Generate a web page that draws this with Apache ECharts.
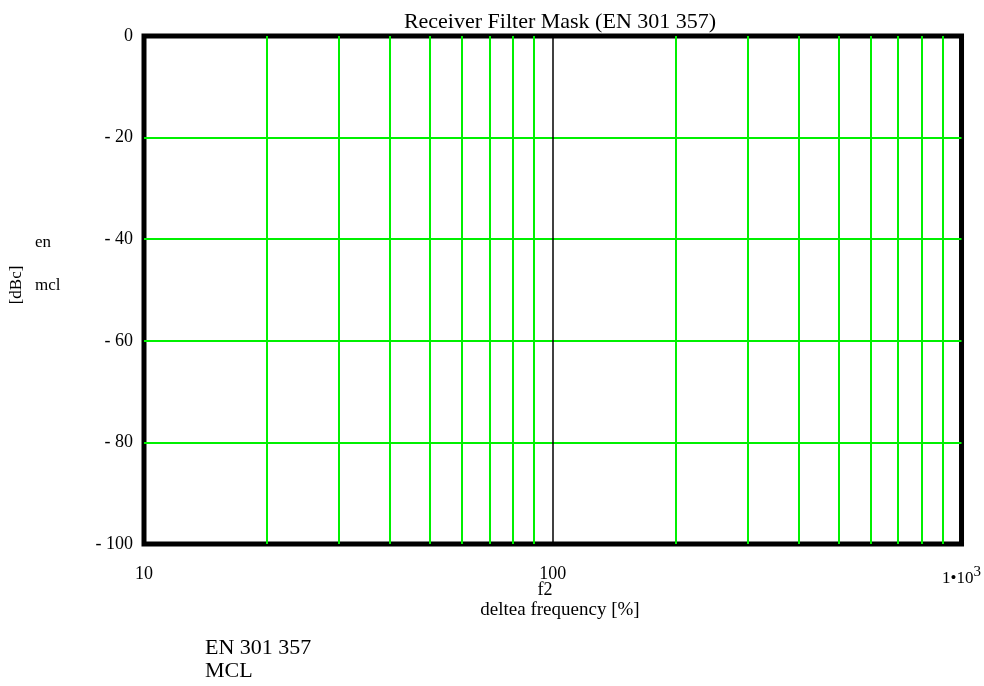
<!DOCTYPE html>
<html><head><meta charset="utf-8">
<script src="https://cdn.jsdelivr.net/npm/echarts@6/dist/echarts.min.js"></script>
<style>html,body{margin:0;padding:0;background:#fff}#c{width:984px;height:686px}</style>
</head><body><div id="c"></div>
<script>
// Data
var xTicks = [10, 100, 1000];
var yTicks = [-100, -80, -60, -40, -20, 0];
var greenGridX = [20, 30, 40, 50, 60, 70, 80, 90, 200, 300, 400, 500, 600, 700, 800, 900];
var blackGridX = [100];
var enData = [];   // EN 301 357 mask (no visible points in plot range)
var mclData = [];  // MCL (no visible points in plot range)
var seriesNames = ['EN 301 357', 'MCL'];

var FONT = '"Liberation Serif", "DejaVu Serif", serif';
var GREEN = '#00f000';
var chart = echarts.init(document.getElementById('c'));

var markData = greenGridX.map(function (v) {
  return { xAxis: v, lineStyle: { color: GREEN, width: 2, type: 'solid' } };
}).concat(blackGridX.map(function (v) {
  return { xAxis: v, lineStyle: { color: '#000', width: 1.5, type: 'solid' } };
}));

chart.setOption({
  animation: false,
  backgroundColor: '#fff',
  title: {
    text: 'Receiver Filter Mask (EN 301 357)',
    left: 555, top: 6, textAlign: 'center',
    textStyle: { fontFamily: FONT, fontSize: 22, fontWeight: 'normal', color: '#000' }
  },
  grid: {
    left: 144, right: 22, top: 36, bottom: 142,
    show: true, borderColor: '#000', borderWidth: 5, backgroundColor: 'transparent'
  },
  xAxis: {
    type: 'log', logBase: 10, min: 10, max: 1000,
    axisLine: { show: false }, axisTick: { show: false },
    splitLine: { show: false },
    axisLabel: {
      margin: 21, fontFamily: FONT, fontSize: 18, color: '#000',
      formatter: function (v) {
        if (v >= 999) return '{n|1•10}{s|3}';
        return String(Math.round(v));
      },
      rich: {
        n: { fontFamily: FONT, fontSize: 17, color: '#000' },
        s: { fontFamily: FONT, fontSize: 15, color: '#000', verticalAlign: 'bottom', padding: [0, 0, 12, 0] }
      }
    }
  },
  yAxis: {
    type: 'value', min: -100, max: 0, interval: 20,
    axisLine: { show: false }, axisTick: { show: false },
    splitLine: { show: true, showMinLine: false, showMaxLine: false, lineStyle: { color: GREEN, width: 2 } },
    axisLabel: {
      margin: 11, fontFamily: FONT, fontSize: 18, color: '#000',
      formatter: function (v) { return v < 0 ? '- ' + Math.abs(v) : String(v); }
    }
  },
  series: [
    { name: seriesNames[0], type: 'line', data: enData, symbol: 'none', silent: true,
      lineStyle: { color: '#c00000' },
      markLine: { silent: true, symbol: 'none', label: { show: false }, data: markData } },
    { name: seriesNames[1], type: 'line', data: mclData, symbol: 'none', silent: true,
      lineStyle: { color: '#0000c0' } }
  ],
  graphic: [
    { type: 'text', x: 545, y: 590, style: { text: 'f2', font: '18px ' + FONT, fill: '#000', textAlign: 'center', textVerticalAlign: 'middle' } },
    { type: 'text', x: 560, y: 610, style: { text: 'deltea frequency [%]', font: '19px ' + FONT, fill: '#000', textAlign: 'center', textVerticalAlign: 'middle' } },
    { type: 'text', x: 17, y: 285, rotation: Math.PI / 2, style: { text: '[dBc]', font: '17px ' + FONT, fill: '#000', textAlign: 'center', textVerticalAlign: 'middle' } },
    { type: 'text', x: 35, y: 243, style: { text: 'en', font: '17px ' + FONT, fill: '#000', textVerticalAlign: 'middle' } },
    { type: 'text', x: 35, y: 286, style: { text: 'mcl', font: '17px ' + FONT, fill: '#000', textVerticalAlign: 'middle' } },
    { type: 'text', x: 205, y: 648, style: { text: seriesNames[0], font: '22px ' + FONT, fill: '#000', textVerticalAlign: 'middle' } },
    { type: 'text', x: 205, y: 671, style: { text: seriesNames[1], font: '22px ' + FONT, fill: '#000', textVerticalAlign: 'middle' } }
  ]
});
</script></body></html>
